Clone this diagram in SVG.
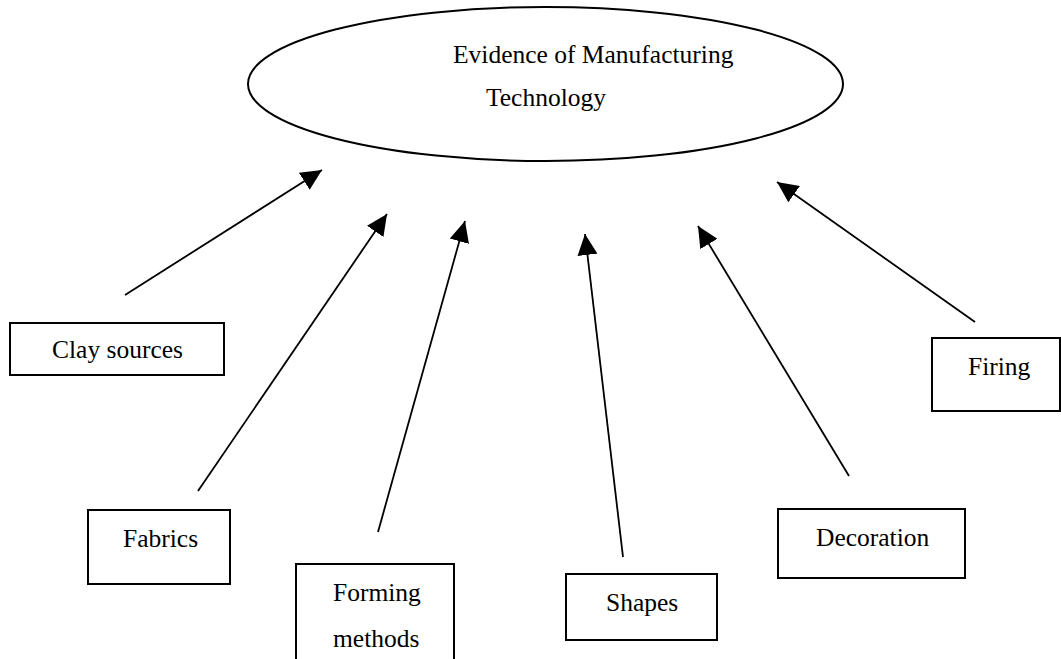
<svg xmlns="http://www.w3.org/2000/svg" width="1061" height="659" viewBox="0 0 1061 659">
<style>
.bg{fill:#fff}
.box{fill:#fff;stroke:#000;stroke-width:2}
.oval{fill:#fff;stroke:#000;stroke-width:2}
.lbl{font-family:"Liberation Serif","Times New Roman",serif;font-size:25.5px;fill:#000}
.conn line{stroke:#000;stroke-width:1.8;marker-end:url(#ah)}
</style>
<defs>
<marker id="ah" markerUnits="userSpaceOnUse" markerWidth="22" markerHeight="20" refX="21" refY="10" orient="auto" viewBox="0 0 22 20">
<path d="M0,0 L21,10 L0,20 z" fill="#000"/>
</marker>
</defs>
<rect class="bg" x="0" y="0" width="1061" height="659"/>
<g id="center">
<ellipse class="oval" cx="545.5" cy="84" rx="297.5" ry="77"/>
<text class="lbl" x="453" y="63">Evidence of Manufacturing</text>
<text class="lbl" x="486" y="106">Technology</text>
</g>
<g id="clay">
<rect class="box" x="10" y="323" width="214" height="52"/>
<text class="lbl" x="52" y="358">Clay sources</text>
</g>
<g id="fabrics">
<rect class="box" x="88" y="510" width="142" height="74"/>
<text class="lbl" x="123" y="547">Fabrics</text>
</g>
<g id="forming">
<rect class="box" x="296" y="564" width="158" height="110"/>
<text class="lbl" x="333" y="601">Forming</text>
<text class="lbl" x="333" y="647">methods</text>
</g>
<g id="shapes">
<rect class="box" x="566" y="574" width="151" height="66"/>
<text class="lbl" x="606" y="611">Shapes</text>
</g>
<g id="decoration">
<rect class="box" x="778" y="509" width="187" height="69"/>
<text class="lbl" x="816" y="546">Decoration</text>
</g>
<g id="firing">
<rect class="box" x="932" y="338" width="128" height="73"/>
<text class="lbl" x="968" y="375">Firing</text>
</g>
<g id="connectors" class="conn">
<line x1="125" y1="295" x2="322" y2="170"/>
<line x1="198" y1="491" x2="387" y2="214"/>
<line x1="378" y1="532" x2="465" y2="221"/>
<line x1="623" y1="557" x2="585" y2="234"/>
<line x1="849" y1="476" x2="698" y2="226"/>
<line x1="975" y1="322" x2="777" y2="182"/>
</g>
</svg>
